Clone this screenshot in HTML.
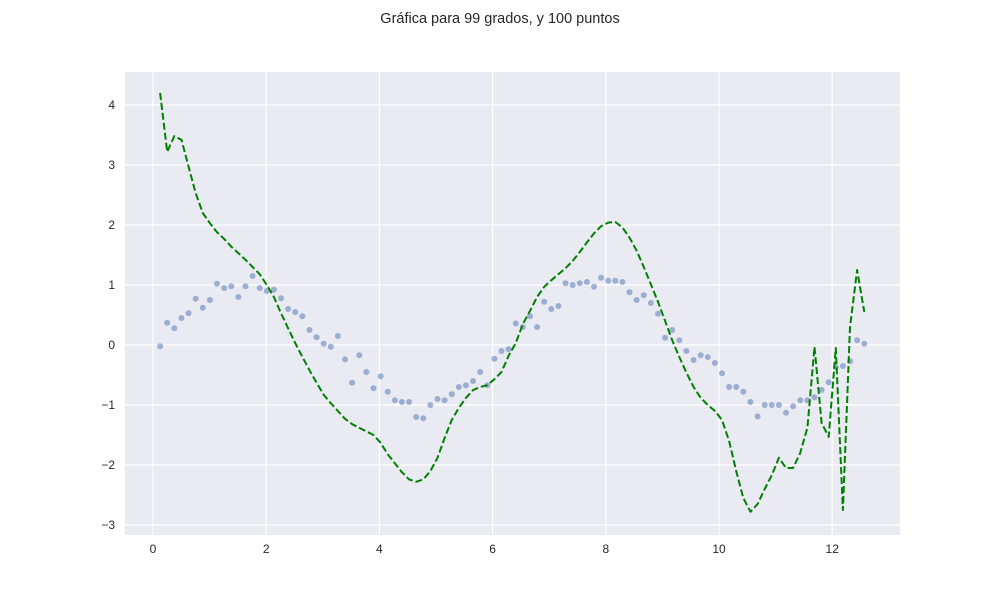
<!DOCTYPE html>
<html><head><meta charset="utf-8"><style>
html,body{margin:0;padding:0;background:#fff;}
svg{display:block;font-family:"Liberation Sans",sans-serif;}
</style></head><body>
<svg id="chart" width="1000" height="600" viewBox="0 0 1000 600">
<text x="500" y="23" text-anchor="middle" font-size="14.5" fill="#262626">Gráfica para 99 grados, y 100 puntos</text>
<rect x="125" y="72" width="775" height="463" fill="#EAEAF2"/>
<g id="grid"></g><g id="ticks"></g><g id="series"></g>
</svg>
<script>
const xTicks=[0,2,4,6,8,10,12];
const yTicks=[-3,-2,-1,0,1,2,3,4];
const nPoints=100;
const sampleY=[-0.02,0.37,0.28,0.45,0.53,0.77,0.62,0.75,1.02,0.95,0.98,0.8,0.98,1.15,0.95,0.9,0.92,0.78,0.6,0.55,0.48,0.25,0.13,0.02,-0.03,0.15,-0.24,-0.63,-0.17,-0.45,-0.72,-0.52,-0.78,-0.92,-0.95,-0.95,-1.2,-1.22,-1.0,-0.9,-0.92,-0.82,-0.7,-0.67,-0.6,-0.45,-0.67,-0.23,-0.1,-0.07,0.36,0.3,0.48,0.3,0.72,0.6,0.65,1.03,1.0,1.03,1.05,0.97,1.12,1.07,1.07,1.05,0.88,0.75,0.83,0.7,0.52,0.12,0.25,0.08,-0.1,-0.25,-0.17,-0.2,-0.3,-0.47,-0.7,-0.7,-0.78,-0.95,-1.19,-1.0,-1.0,-1.0,-1.13,-1.02,-0.92,-0.92,-0.87,-0.75,-0.62,-0.37,-0.35,-0.27,0.08,0.02];
const fitY=[4.2,3.22,3.48,3.42,2.97,2.53,2.2,2.03,1.88,1.77,1.64,1.53,1.42,1.3,1.18,1.0,0.8,0.53,0.28,0.03,-0.2,-0.42,-0.63,-0.83,-0.97,-1.1,-1.23,-1.32,-1.38,-1.44,-1.5,-1.63,-1.82,-1.97,-2.12,-2.24,-2.28,-2.24,-2.1,-1.88,-1.55,-1.25,-1.05,-0.88,-0.75,-0.7,-0.67,-0.57,-0.45,-0.18,0.03,0.35,0.57,0.8,0.97,1.08,1.18,1.28,1.4,1.55,1.71,1.86,1.98,2.04,2.05,1.96,1.79,1.57,1.3,1.01,0.72,0.4,0.08,-0.2,-0.46,-0.7,-0.88,-1.0,-1.1,-1.25,-1.6,-2.1,-2.55,-2.78,-2.65,-2.4,-2.17,-1.88,-2.05,-2.05,-1.8,-1.38,-0.03,-1.3,-1.53,-0.05,-2.75,0.3,1.25,0.55];
const xMax=4*Math.PI;
const NS='http://www.w3.org/2000/svg';
const sx=v=>153+56.6*v;
const sy=v=>345-60*v;
const xs=[];for(let i=1;i<=nPoints;i++)xs.push(xMax*i/nPoints);
function mk(tag,attrs,parent){const e=document.createElementNS(NS,tag);for(const k in attrs)e.setAttribute(k,attrs[k]);parent.appendChild(e);return e;}
const grid=document.getElementById('grid'),ticks=document.getElementById('ticks'),series=document.getElementById('series');
xTicks.forEach(t=>{
 const l=mk('line',{x1:sx(t),x2:sx(t),y1:72,y2:535,stroke:'#fff','stroke-width':1.2},grid);
 
 
 const tx=mk('text',{x:sx(t),y:553,'text-anchor':'middle','font-size':12,fill:'#262626'},ticks);
 tx.textContent=t;
 
 
});
yTicks.forEach(t=>{
 const l=mk('line',{x1:125,x2:900,y1:sy(t),y2:sy(t),stroke:'#fff','stroke-width':1.2},grid);
 
 
 const tx=mk('text',{x:115,y:sy(t)+4,'text-anchor':'end','font-size':12,fill:'#262626'},ticks);
 tx.textContent=(t<0?'\u2212'+(-t):t);
 
 
});
xs.forEach((x,i)=>{
 const c=mk('circle',{cx:sx(x),cy:sy(sampleY[i]),r:3,fill:'#4c72b0','fill-opacity':0.5},series);
 
 
});
const d=xs.map((x,i)=>(i?'L':'M')+sx(x).toFixed(1)+','+sy(fitY[i]).toFixed(1)).join(' ');
const p=mk('path',{d:d,fill:'none',stroke:'#008000','stroke-width':2,'stroke-dasharray':'7,3','stroke-linejoin':'round'},series);


</script>
</body></html>
